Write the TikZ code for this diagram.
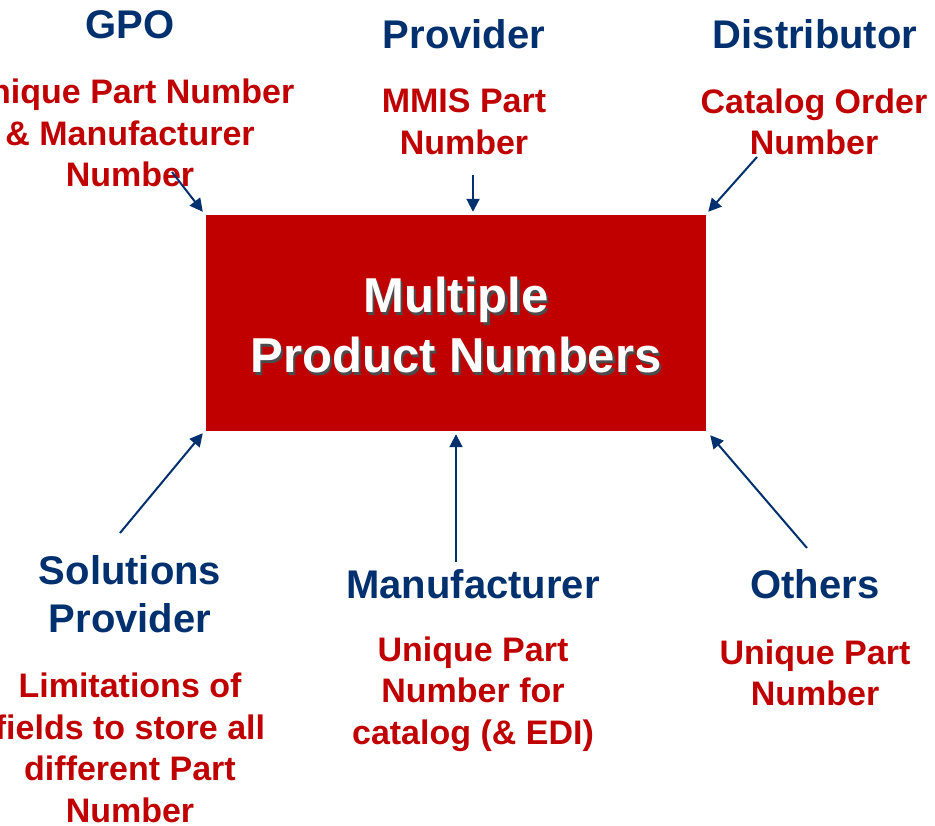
\documentclass[tikz,border=0pt]{standalone}
\usepackage{fontspec}
\setmainfont{Liberation Sans}
\usetikzlibrary{arrows.meta,calc}
\definecolor{navy}{HTML}{00306E}
\definecolor{darkred}{HTML}{C00000}
\tikzset{
  head/.style={font=\bfseries\fontsize{40}{48}\selectfont, text=navy, align=center, inner sep=0pt},
  sub/.style={font=\bfseries\fontsize{34}{41.5}\selectfont, text=darkred, align=center, inner sep=0pt},
  conn/.style={draw=navy, line width=2pt, -{Triangle[length=13pt,width=13pt]}},
  mainbox/.style={fill=darkred, minimum width=500pt, minimum height=216pt, inner sep=0pt},
  boxtext/.style={font=\bfseries\fontsize{49}{60}\selectfont, align=center, inner sep=0pt}
}
\begin{document}
\begin{tikzpicture}[x=1pt,y=-1pt]
\useasboundingbox (0,0) rectangle (935,826);
\fill[white] (0,0) rectangle (935,826);

\node[mainbox] (box) at (456,323) {};
\node[boxtext, text=black!70] (boxshadow) at (458.5,327.5) {Multiple\\Product Numbers};
\node[boxtext, text=white] (boxlabel) at (456,325) {Multiple\\Product Numbers};

% top
\node[head] (gpo) at (130,25) {GPO};
\node[sub] (gposub) at (130,133) {Unique Part Number\\\& Manufacturer\\Number};
\node[head] (prov) at (464,34) {Provider};
\node[sub] (provsub) at (464,122) {MMIS Part\\Number};
\node[head] (dist) at (815,34) {Distributor};
\node[sub] (distsub) at (814,122) {Catalog Order\\Number};

% bottom
\node[head] (sol) at (130,594) {Solutions\\Provider};
\node[sub] (solsub) at (130,748) {Limitations of\\fields to store all\\different Part\\Number};
\node[head] (manu) at (473,584) {Manufacturer};
\node[sub] (manusub) at (473,694) {Unique Part\\Number for\\catalog (\& EDI)};
\node[head] (oth) at (815,584) {Others};
\node[sub] (othsub) at (815,673) {Unique Part\\Number};

% arrow start points
\coordinate (gpoA) at (172,172);
\coordinate (provA) at (473,175);
\coordinate (distA) at (757,157);
\coordinate (solA) at (120,533);
\coordinate (manuA) at (456,562);
\coordinate (othA) at (807,548);

\draw[conn] (gpoA) -- ($(box.north west)+(-3,-3)$);
\draw[conn] (provA) -- ($(box.north)+(17,-3)$);
\draw[conn] (distA) -- ($(box.north east)+(2,-3)$);
\draw[conn] (solA) -- ($(box.south west)+(-3,2)$);
\draw[conn] (manuA) -- ($(box.south)+(0,3)$);
\draw[conn] (othA) -- ($(box.south east)+(4,4)$);
\end{tikzpicture}
\end{document}
